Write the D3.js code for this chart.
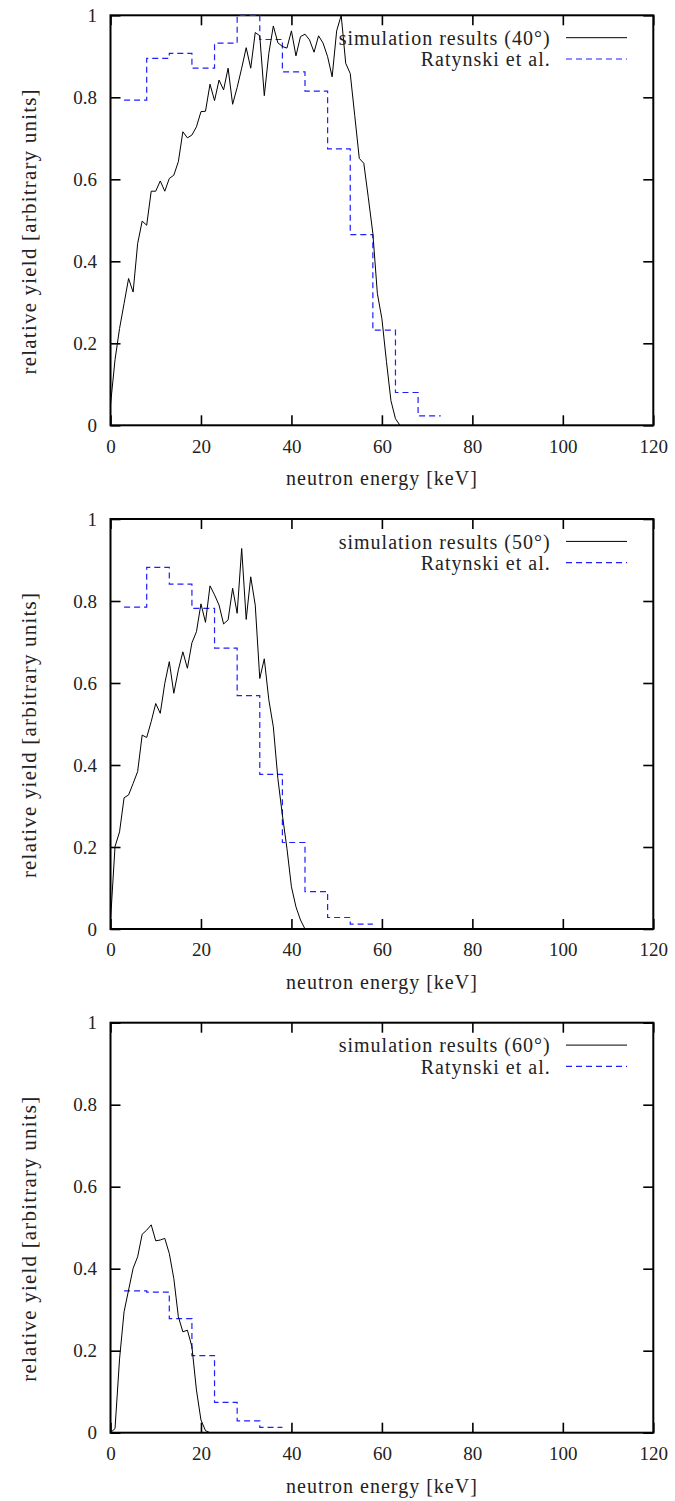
<!DOCTYPE html>
<html>
<head>
<meta charset="utf-8">
<script src="https://cdn.jsdelivr.net/npm/d3@7"></script>
<style>
  body { margin: 0; background: #fff; }
  svg text { font-family: "Liberation Serif", serif; fill: #222; }
</style>
</head>
<body>
<div id="chart"></div>
<script>
// --- data ---
const xTicks = [0, 20, 40, 60, 80, 100, 120]
const yTicks = [0, 0.2, 0.4, 0.6, 0.8, 1]
const angles = ["40°", "50°", "60°"]

// simulation results, 1 keV steps
const simEnergy40 = [0,1,2,3,4,5,6,7,8,9,10,11,12,13,14,15,16,17,18,19,20,21,22,23,24,25,26,27,28,29,30,31,32,33,34,35,36,37,38,39,40,41,42,43,44,45,46,47,48,49,50,51,52,53,54,55,56,57,58,59,60,61,62,63,64]
const simYield40 = [0.05,0.16,0.236,0.297,0.358,0.325,0.443,0.498,0.488,0.571,0.571,0.596,0.571,0.602,0.61,0.643,0.716,0.701,0.708,0.728,0.765,0.766,0.832,0.792,0.842,0.818,0.871,0.783,0.824,0.871,0.921,0.871,0.958,0.95,0.804,0.907,0.974,0.933,0.924,0.92,0.962,0.901,0.948,0.954,0.94,0.91,0.95,0.932,0.899,0.85,0.962,1.0,0.883,0.858,0.755,0.651,0.639,0.555,0.468,0.321,0.26,0.156,0.06,0.016,0]

const simEnergy50 = [0,1,2,3,4,5,6,7,8,9,10,11,12,13,14,15,16,17,18,19,20,21,22,23,24,25,26,27,28,29,30,31,32,33,34,35,36,37,38,39,40,41,42,43]
const simYield50 = [0.02,0.201,0.237,0.32,0.327,0.355,0.384,0.473,0.467,0.506,0.55,0.526,0.599,0.652,0.575,0.632,0.676,0.636,0.698,0.725,0.793,0.748,0.837,0.815,0.79,0.744,0.754,0.831,0.77,0.928,0.755,0.859,0.79,0.611,0.659,0.559,0.493,0.367,0.278,0.197,0.103,0.054,0.022,0]

const simEnergy60 = [0,1,2,3,4,5,6,7,8,9,10,11,12,13,14,15,16,17,18,19,20,21,22]
const simYield60 = [0,0.01,0.18,0.295,0.348,0.401,0.429,0.484,0.494,0.507,0.468,0.47,0.474,0.437,0.376,0.283,0.246,0.25,0.21,0.104,0.031,0.005,0]

// Ratynski et al., histogram bins (edges in keV)
const ratEdges40 = [3,8,13,18,23,28,33,38,43,48,53,58,63,68,73]
const ratYield40 = [0.793,0.895,0.907,0.871,0.932,1.0,0.941,0.862,0.815,0.674,0.465,0.232,0.08,0.023]

const ratEdges50 = [3,8,13,18,23,28,33,38,43,48,53,58]
const ratYield50 = [0.785,0.882,0.841,0.782,0.685,0.569,0.377,0.211,0.091,0.028,0.012]

const ratEdges60 = [3,8,13,18,23,28,33,38]
const ratYield60 = [0.346,0.343,0.278,0.188,0.074,0.029,0.013]

const panels = [
  {angle: angles[0], simX: simEnergy40, simY: simYield40, edges: ratEdges40, rat: ratYield40},
  {angle: angles[1], simX: simEnergy50, simY: simYield50, edges: ratEdges50, rat: ratYield50},
  {angle: angles[2], simX: simEnergy60, simY: simYield60, edges: ratEdges60, rat: ratYield60}
]

// --- layout ---
const width = 675
const height = 1501
const marginLeft = 110.5
const plotRight = 653.3
const plotHeight = 410
const panelTops = [15.3, 519, 1022.7]
const tickLen = 10
const tickFont = 19
const labelFont = 20
const blue = "#1f1fff"

const svg = d3.select("#chart")
  .append("svg")
  .attr("width", width)
  .attr("height", height)
  .attr("viewBox", [0, 0, width, height])

const xScale = d3.scaleLinear([0, 120], [marginLeft, plotRight])

panels.forEach((p, k) => {
  const top = panelTops[k]
  const bottom = top + plotHeight
  const yScale = d3.scaleLinear([0, 1], [bottom, top])
  const g = svg.append("g")

  const styleAxis = a => a
    .call(s => s.select(".domain").remove())
    .call(s => s.selectAll(".tick line").attr("stroke", "#000").attr("stroke-width", 1.6))
    .call(s => s.selectAll("text").attr("font-size", tickFont).attr("font-family", "Liberation Serif").attr("fill", "#222"))

  // axes, ticks pointing inwards on all four sides
  g.append("g").attr("transform", `translate(0,${bottom})`)
    .call(d3.axisBottom(xScale).tickValues(xTicks).tickSize(-tickLen).tickPadding(14).tickFormat(d3.format("~g")))
    .call(styleAxis)
  g.append("g").attr("transform", `translate(0,${top})`)
    .call(d3.axisTop(xScale).tickValues(xTicks).tickSize(-tickLen).tickFormat(""))
    .call(styleAxis)
  g.append("g").attr("transform", `translate(${marginLeft},0)`)
    .call(d3.axisLeft(yScale).tickValues(yTicks).tickSize(-tickLen).tickPadding(13.5).tickFormat(d3.format("~g")))
    .call(styleAxis)
  g.append("g").attr("transform", `translate(${plotRight},0)`)
    .call(d3.axisRight(yScale).tickValues(yTicks).tickSize(-tickLen).tickFormat(""))
    .call(styleAxis)

  // frame
  g.append("rect")
    .attr("x", marginLeft).attr("y", top)
    .attr("width", plotRight - marginLeft).attr("height", plotHeight)
    .attr("fill", "none").attr("stroke", "#000").attr("stroke-width", 2)

  // axis titles
  g.append("text")
    .attr("x", (marginLeft + plotRight) / 2).attr("y", bottom + 60)
    .attr("text-anchor", "middle").attr("font-size", labelFont)
    .attr("letter-spacing", 1)
    .text("neutron energy [keV]")
  g.append("text")
    .attr("transform", `translate(36,${(top + bottom) / 2 + 11}) rotate(-90)`)
    .attr("text-anchor", "middle").attr("font-size", 21)
    .attr("letter-spacing", 1.2)
    .text("relative yield [arbitrary units]")

  // Ratynski histogram
  const ratPts = p.edges.map((e, i) => [e, i < p.rat.length ? p.rat[i] : p.rat[p.rat.length - 1]])
  const step = d3.line().curve(d3.curveStepAfter)
    .x(d => xScale(d[0])).y(d => yScale(d[1]))
  g.append("path")
    .attr("d", step(ratPts))
    .attr("fill", "none").attr("stroke", blue).attr("stroke-width", 1.2)
    .attr("stroke-dasharray", "6,4")

  // simulation line
  const line = d3.line().x(d => xScale(d[0])).y(d => yScale(d[1]))
  g.append("path")
    .attr("d", line(p.simX.map((x, i) => [x, p.simY[i]])))
    .attr("fill", "none").attr("stroke", "#000").attr("stroke-width", 1)

  // legend
  const legX = 550.7
  const legend = [
    {label: `simulation results (${p.angle})`, stroke: "#000", dash: null, dy: 22.4},
    {label: "Ratynski et al.", stroke: blue, dash: "6,4", dy: 43.7}
  ]
  legend.forEach(l => {
    g.append("text")
      .attr("x", legX).attr("y", top + l.dy + 7.3)
      .attr("text-anchor", "end").attr("font-size", labelFont)
      .attr("letter-spacing", 1)
      .text(l.label)
    g.append("line")
      .attr("x1", 566).attr("x2", 627)
      .attr("y1", top + l.dy).attr("y2", top + l.dy)
      .attr("stroke", l.stroke).attr("stroke-width", l.dash ? 1.2 : 1)
      .attr("stroke-dasharray", l.dash)
  })
})
</script>
</body>
</html>
